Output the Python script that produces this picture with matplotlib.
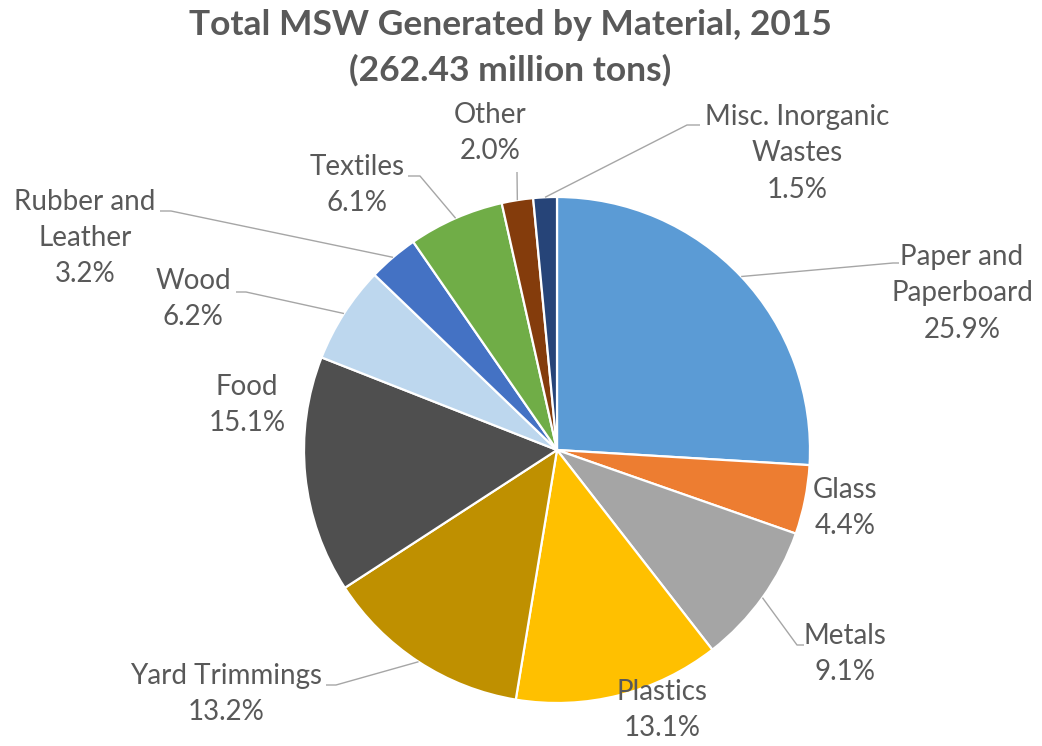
import numpy as np
import matplotlib.pyplot as plt

# Dane z wykresu
materials = ['Paper and\nPaperboard', 'Glass', 'Metals', 'Plastics', 'Yard Trimmings',
             'Food', 'Wood', 'Rubber and\nLeather', 'Textiles', 'Other',
             'Misc. Inorganic\nWastes']
shares = [25.9, 4.4, 9.1, 13.1, 13.2, 15.1, 6.2, 3.2, 6.1, 2.0, 1.5]
colors = ['#5B9BD5', '#ED7D31', '#A5A5A5', '#FFC000', '#BF9000', '#4F4F4F',
          '#BDD7EE', '#4472C4', '#70AD47', '#843C0C', '#264478']

title = 'Total MSW Generated by Material, 2015\n(262.43 million tons)'

# uklad w pikselach (srodek kola, promien)
W, H = 1042, 746
CX, CY, R = 557, 450, 253


def px(x, y):                                       # piksele -> wspolrzedne osi
    return (x - CX) / R, (CY - y) / R


# polozenie etykiet (srodek bloku tekstu) i linii odniesienia (kolanko, koniec)
label_pos = [(962, 293), (845, 508), (845, 654), (662, 710), (226, 694),
             (247, 405), (193, 299), (85, 238), (357, 185), (490, 133), (797, 153)]
leaders = {0: [(893, 263), (899, 263)],
           2: [(797, 645), (804, 645)],
           4: [(336, 685), (326, 685)],
           6: [(246, 292), (236, 292)],
           7: [(171, 211), (160, 211)],
           8: [(420, 176), (408, 176)],
           9: [(517, 172)],
           10: [(687, 125), (700, 125)]}

plt.rcParams['font.family'] = ['Lato', 'DejaVu Sans']
fig = plt.figure(figsize=(W / 100, H / 100), dpi=100)
ax = fig.add_axes([0, 0, 1, 1])

wedges, _ = ax.pie(shares, colors=colors, startangle=90, counterclock=False,
                   radius=1, center=(0, 0),
                   wedgeprops=dict(edgecolor='white', linewidth=1.6))

ax.set_xlim(-CX / R, (W - CX) / R)
ax.set_ylim(-(H - CY) / R, CY / R)
ax.set_aspect('auto')
ax.axis('off')

for i, (w, name, val) in enumerate(zip(wedges, materials, shares)):
    tx, ty = px(*label_pos[i])
    ax.text(tx, ty, f'{name}\n{val:.1f}%', ha='center', va='center',
            fontsize=20, color='#595959', linespacing=1.5)
    if i in leaders:
        mid = np.deg2rad((w.theta1 + w.theta2) / 2)
        pts = [(np.cos(mid), np.sin(mid))] + [px(*p) for p in leaders[i]]
        xs, ys = zip(*pts)
        ax.plot(xs, ys, color='#A6A6A6', lw=1.0, solid_capstyle='butt')

tx, ty = px(510, 48)
ax.text(tx, ty, title, ha='center', va='center', fontsize=25.5,
        fontweight='bold', color='#595959', linespacing=1.47)

fig.savefig('out.png', dpi=100)
